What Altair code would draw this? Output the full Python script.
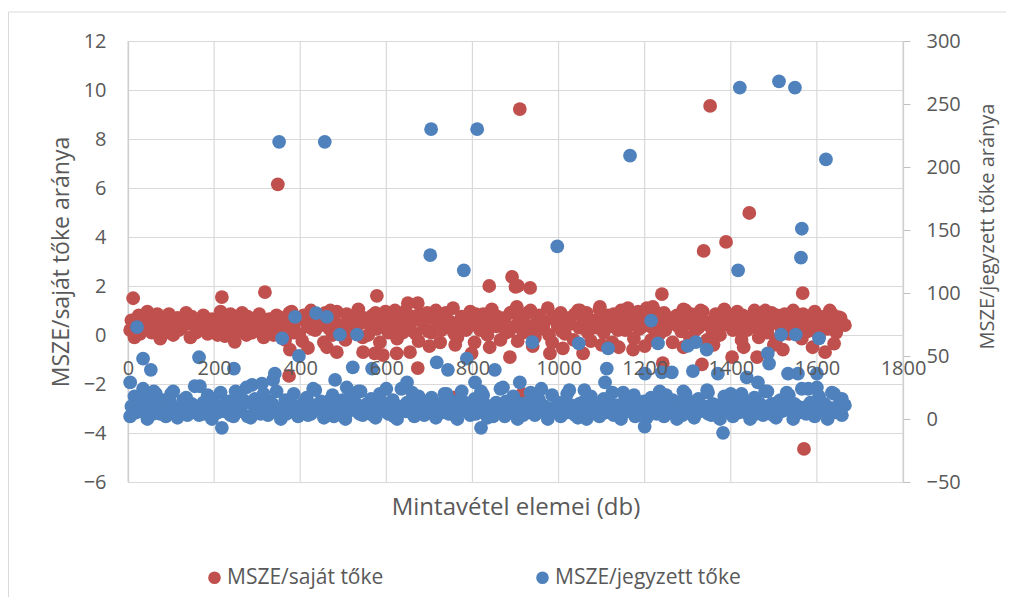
import altair as alt
import pandas as pd

S1 = "MSZE/saját tőke"
S2 = "MSZE/jegyzett tőke"
RED = "#C0504D"
BLUE = "#4F81BD"
FONT = "Open Sans"
GRAY = "#595959"

# sample indices of the dense band (two interleaved subsets of the samples)
band_x = list(range(5, 1666, 10))
band_x2 = list(range(8, 1659, 10))

# MSZE / saját tőke (left axis) - dense band
red_band = [
    0.2, -0.1, 0.8, 0.4, 0.95, 0.1, 0.6, -0.15, 0.5, 0.85,
    0.0, 0.7, 0.3, 0.9, -0.1, 0.55, 0.2, 0.8, 0.05, 0.65,
    0.35, 0.95, -0.05, 0.45, 0.75, 0.15, 0.9, 0.0, 0.6, 0.3,
    0.85, -0.1, 0.5, 0.25, 0.8,
    0.3, -0.2, 0.9, 0.1, 0.7, -0.25, 0.5, 1.0, 0.2, 0.8,
    -0.3, 0.6, 0.0, 0.95, 0.4, -0.2, 0.75, 0.15, 1.05, -0.1,
    0.55, 0.3, 0.9, -0.3, 0.65, 0.1, 0.85, -0.15, 0.45, 1.0,
    0.2, 0.75, -0.25, 0.5, 0.9,
    0.1, 1.0, -0.3, 0.6, 0.3, 1.1, -0.1, 0.75, 0.2, 0.95,
    -0.3, 0.5, 0.85, 0.0, 1.05, 0.35, -0.2, 0.7, 0.15, 0.95,
    -0.25, 0.6, 0.4, 1.0, -0.1, 0.8, 0.25, 1.1, -0.3, 0.55,
    0.9, 0.05, 0.7, -0.2, 1.0,
    0.3, 0.9, -0.25, 0.6, 1.05, 0.1, 0.8, -0.3, 0.45, 1.0,
    0.2, 0.75, -0.15, 0.95, 0.35, 1.1, -0.2, 0.6, 0.05, 0.9,
    0.4, -0.3, 0.8, 0.15, 1.0, -0.1, 0.65, 0.3, 0.95, -0.2,
    0.55, 0.85, 0.0, 1.05, 0.4,
    0.2, 0.95, -0.2, 0.6, 0.35, 1.0, -0.1, 0.75, 0.1, 0.9,
    -0.2, 0.5, 0.85, 0.05, 1.0, 0.3, -0.15, 0.7, 0.45, 0.95,
    -0.05, 0.6, 0.25, 0.85, 0.1, 0.7, 0.4,
]
red_band2 = [
    0.6, 0.35, 0.05, 0.7, 0.25, 0.5, 0.85, 0.3, 0.1, 0.4,
    0.65, 0.2, 0.55, 0.45, 0.75, 0.1, 0.4, 0.6, 0.3, 0.5,
    0.0, 0.65, 0.35, 0.85, 0.2, 0.55, 0.4, 0.75, 0.1, 0.7,
    0.45, 0.3, 0.65, 0.0, 0.5,
    0.7, 0.45, 0.2, 0.5, 0.05, 0.8, 0.35, 0.25, 0.6, 0.4,
    0.9, 0.25, 0.7, 0.35, 0.05, 0.85, 0.3, 0.55, 0.45, 0.7,
    0.0, 0.8, 0.25, 0.55, 0.95, 0.4, 0.3, 0.7, 0.1, 0.6,
    0.5, 0.05, 0.85, 0.3, 0.15,
    0.7, 0.4, 0.2, 0.9, 0.55, 0.05, 0.45, 0.3, 0.65, 0.4,
    0.85, 0.2, 0.35, 0.6, 0.45, 0.75, 0.5, 0.1, 0.9, 0.35,
    0.7, 0.1, 0.9, 0.3, 0.5, 0.4, 0.55, 0.0, 0.75, 0.35,
    0.15, 0.6, 0.45, 0.85, 0.3,
    0.65, 0.1, 0.45, 0.3, 0.5, 0.7, 0.35, 0.85, 0.2, 0.6,
    0.95, 0.4, 0.55, 0.25, 0.75, 0.5, 0.3, 0.9, 0.45, 0.2,
    0.7, 0.55, 0.35, 0.6, 0.45, 0.85, 0.2, 0.75, 0.5, 0.4,
    0.1, 0.35, 0.7, 0.45, 0.8,
    0.5, 0.3, 0.8, 0.2, 0.65, 0.45, 0.1, 0.55, 0.35, 0.6,
    0.8, 0.25, 0.45, 0.7, 0.3, 0.55, 0.85, 0.15, 0.5, 0.25,
    0.75, 0.4, 0.6, 0.35, 0.55, 0.5,
]

# MSZE / saját tőke - scattered values
red_out_x = [12, 218, 318, 348, 578, 650, 673, 839, 892, 900, 906, 910, 934, 1240,
             1337, 1352, 1389, 1443, 1567,
             248, 374, 376, 418, 462, 485, 546, 573, 592, 624, 655, 673, 798, 887,
             980, 1057, 1173, 1242, 1333, 1403, 1461, 1521, 1619, 1570,
             760, 818, 916,
             700, 760, 840, 940, 1010, 1100, 1140, 1200, 1290, 1360, 1430, 1500,
             1590, 1640,
             1096, 1161, 1219, 1050, 903, 620, 380, 470, 1290, 1330, 1480, 1630, 1650]
red_out_y = [1.5, 1.55, 1.75, 6.15, 1.6, 1.3, 1.3, 2.0, 2.37, 1.96, 2.0, 9.22, 1.92, 1.67,
             3.43, 9.35, 3.8, 4.98, 1.71,
             -0.28, -1.67, -0.6, -0.53, -0.5, -0.7, -0.7, -0.75, -0.82, -0.75, -0.7, -1.35,
             -0.75, -0.9, -0.75, -0.75, -0.6, -1.15, -1.2, -0.9, -0.9, -0.6, -0.7, -4.65,
             -2.55, -2.85, -2.4,
             -0.45, -0.4, -0.5, -0.45, -0.55, -0.4, -0.5, -0.45, -0.5, -0.4, -0.5, -0.4,
             -0.5, -0.35,
             1.15, 1.1, 1.15, 1.0, 1.15, 1.0, 0.95, 1.0, 1.05, 1.0, 1.0, 1.0, 0.73]

# MSZE / jegyzett tőke (right axis) - dense band
blue_band = [
    2, 18, 6, 24, 0, 12, 20, 4, 15, 8,
    22, 1, 10, 17, 5, 26, 3, 13, 19, 0,
    9, 21, 6, 14, 2, 18, 11, 25, 1, 16,
    7, 20, 3, 12, 22,
    0, 15, 6, 20, 2, 11, 17, 4, 23, 8,
    1, 14, 19, 5, 10, 0, 18, 7, 22, 3,
    12, 16, 1, 20, 9, 4, 15, 0, 24, 6,
    13, 2, 18, 10, 5,
    17, 1, 11, 20, 4, 14, 0, 22, 8, 3,
    16, 10, 19, 1, 6, 13, 24, 2, 9, 18,
    0, 12, 5, 21, 3, 15, 8, 0, 19, 11,
    2, 14, 23, 6, 1,
    13, 0, 18, 7, 2, 16, 10, 21, 4, 0,
    14, 8, 19, 3, 11, 1, 17, 6, 22, 2,
    9, 15, 0, 12, 20, 5, 1, 16, 8, 23,
    3, 11, 0, 18, 6,
    2, 14, 20, 5, 0, 17, 9, 3, 22, 12,
    1, 15, 7, 19, 0, 10, 24, 4, 13, 2,
    18, 8, 0, 21, 6, 15, 11,
]
blue_band2 = [
    10, 5, 14, 9, 16, 4, 7, 11, 2, 13,
    6, 8, 15, 3, 12, 9, 7, 4, 11, 14,
    5, 10, 13, 3, 8, 6, 15, 2, 12, 9,
    4, 11, 14, 7, 5,
    9, 4, 12, 10, 7, 13, 3, 11, 8, 14,
    6, 9, 2, 12, 15, 5, 10, 13, 4, 8,
    11, 3, 9, 14, 6, 12, 2, 10, 7, 13,
    5, 8, 11, 3, 14,
    8, 12, 5, 10, 13, 3, 9, 14, 6, 11,
    4, 7, 12, 9, 2, 10, 6, 14, 5, 11,
    8, 3, 13, 9, 12, 6, 10, 4, 7, 13,
    9, 5, 11, 3, 12,
    7, 10, 4, 12, 9, 5, 13, 3, 11, 8,
    6, 12, 2, 10, 14, 7, 9, 4, 12, 10,
    5, 7, 13, 3, 9, 11, 14, 6, 10, 4,
    12, 8, 5, 11, 14,
    8, 5, 11, 13, 9, 4, 12, 7, 10, 3,
    13, 6, 11, 8, 12, 5, 9, 10, 4, 11,
    7, 12, 9, 5, 10, 3,
]

# MSZE / jegyzett tőke - scattered values
blue_out_x = [351, 457, 704, 811, 1421, 1512, 1549, 1166, 1621, 702, 780, 997, 1565, 1563, 1417,
              21, 35, 53, 165, 246, 358, 388, 397, 437, 462, 492, 532, 522, 567, 648, 717,
              743, 787, 852, 939, 1047, 1115, 1112, 1215, 1231, 1300, 1319, 1344, 1312,
              1201, 1240, 1263, 1370, 1437, 1463, 1486, 1489, 1517, 1551, 1605, 1533, 1556,
              1600,
              5, 167, 337, 341, 311, 288, 481, 508, 430, 806, 910, 871, 1108, 1347, 1600,
              1658, 60, 100, 250, 540, 600, 660, 740, 820, 960, 1020, 1060, 1150, 1250,
              1290, 1400, 1480, 1530, 1580, 1640,
              218, 1382, 820, 1200]
blue_out_y = [220, 220, 230, 230, 263, 268, 263, 209, 206, 130, 118, 137, 151, 128, 118,
              73, 48, 39, 49, 40, 64, 81, 50, 84, 81, 67, 67, 41, 40, 29, 45,
              39, 48, 39, 61, 60, 56, 40, 78, 60, 58, 61, 55, 38,
              36, 37, 37, 36, 33, 29, 52, 44, 67, 67, 64, 36, 36,
              36,
              29, 26, 31, 36, 28, 27, 31, 25, 24, 29, 29, 25, 29, 21, 25,
              16, 22, 20, 22, 22, 24, 21, 20, 22, 24, 20, 23, 21, 19,
              22, 20, 22, 21, 24, 20,
              -7, -11, -7, -6]

x_ticks = [0, 200, 400, 600, 800, 1000, 1200, 1400, 1600, 1800]
left_ticks = [-6, -4, -2, 0, 2, 4, 6, 8, 10, 12]
right_ticks = [-50, 0, 50, 100, 150, 200, 250, 300]


def rows(xs, ys, name):
    return [{"x": a, "y": b, "s": name} for a, b in zip(xs, ys)]


red_df = pd.DataFrame(rows(band_x, red_band, S1) + rows(band_x2, red_band2, S1)
                      + rows(red_out_x, red_out_y, S1))
blue_df = pd.DataFrame(rows(band_x, blue_band, S2) + rows(band_x2, blue_band2, S2)
                       + rows(blue_out_x, blue_out_y, S2))

W, H = 775, 441
xscale = alt.Scale(domain=[0, 1800], nice=False, zero=False)
x_axis = alt.Axis(
    values=x_ticks, format="d", grid=False, domain=False, ticks=False, offset=-147,
    labelPadding=23, labelFontSize=20, labelFlush=False, labelOverlap=False,
    title="Mintavétel elemei (db)", titleFontSize=24, titleFontWeight="normal",
    titleY=160, zindex=1)

color = alt.Color(
    "s:N",
    scale=alt.Scale(domain=[S1, S2], range=[RED, BLUE]),
    legend=alt.Legend(
        title=None, orient="none", legendX=76, legendY=526, direction="horizontal",
        columns=2, columnPadding=148, symbolType="circle", symbolSize=160,
        symbolStrokeWidth=0, labelFontSize=21, labelFont=FONT, labelColor=GRAY,
        labelOffset=2, padding=0, labelLimit=400,
    ),
)

frame_df = pd.DataFrame({"a": [0]})
frame_top = alt.Chart(frame_df).mark_rule(color="#d9d9d9", strokeWidth=1).encode(
    x=alt.value(-119.5), x2=alt.value(W + 103), y=alt.value(-29), y2=alt.value(-29))
frame_left = alt.Chart(frame_df).mark_rule(color="#d9d9d9", strokeWidth=1).encode(
    x=alt.value(-119.5), x2=alt.value(-119.5), y=alt.value(-29), y2=alt.value(H + 115))

vgrid = alt.Chart(pd.DataFrame({"t": x_ticks})).mark_rule(color="#d9d9d9", strokeWidth=1.2).encode(
    x=alt.X("t:Q", scale=xscale, axis=x_axis), y=alt.value(0), y2=alt.value(H))

red = alt.Chart(red_df).mark_circle(size=190, opacity=1).encode(
    x=alt.X("x:Q", scale=xscale, axis=x_axis),
    y=alt.Y("y:Q", scale=alt.Scale(domain=[-6, 12], nice=False, zero=False), axis=alt.Axis(
        values=left_ticks, grid=True, gridColor="#d9d9d9", gridWidth=1.2,
        domainColor="#bfbfbf", domainWidth=1.2, ticks=False, labelPadding=22,
        labelFontSize=20, title="MSZE/saját tőke aránya", titleFontSize=23,
        titleFontWeight="normal", titlePadding=10, zindex=0)),
    color=color,
)

blue = alt.Chart(blue_df).mark_circle(size=190, opacity=1).encode(
    x=alt.X("x:Q", scale=xscale, axis=x_axis),
    y=alt.Y("y:Q", scale=alt.Scale(domain=[-50, 300], nice=False, zero=False), axis=alt.Axis(
        orient="right", values=right_ticks, grid=False, domainColor="#bfbfbf",
        domainWidth=1.2, tickColor="#bfbfbf", tickSize=7, labelPadding=16,
        labelFontSize=20, title="MSZE/jegyzett tőke aránya", titleFontSize=20,
        titleFontWeight="normal", titleAngle=270, titleX=84, titleY=185,
        titleAlign="center", titleBaseline="middle")),
    color=color,
)

chart = alt.layer(frame_top, frame_left, vgrid, red, blue).resolve_scale(
    y="independent"
).properties(
    width=W, height=H,
    padding={"left": 120, "top": 33, "right": 103, "bottom": 115},
    autosize=alt.AutoSizeParams(type="none"),
    background="white",
).configure_view(stroke=None).configure_axis(
    labelFont=FONT, titleFont=FONT, labelColor=GRAY, titleColor=GRAY,
)

chart.save("out.html", embed_options={"renderer": "svg", "actions": False})
